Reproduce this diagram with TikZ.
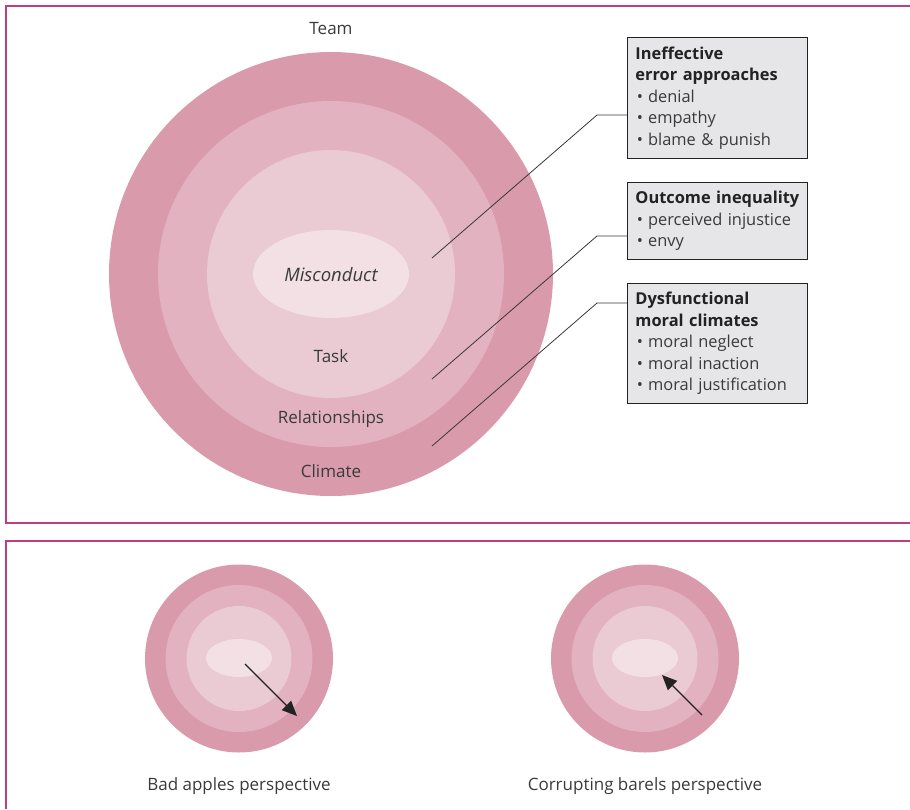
\documentclass[tikz,border=0pt]{standalone}
\usepackage{fontspec}
\setmainfont{Open Sans}
\usetikzlibrary{arrows.meta}
\definecolor{ringA}{HTML}{D99AAC}
\definecolor{ringB}{HTML}{E3B2C0}
\definecolor{ringC}{HTML}{EACAD3}
\definecolor{ringD}{HTML}{F2E0E5}
\definecolor{framec}{HTML}{BD3F80}
\definecolor{boxfill}{HTML}{E6E6E8}
\definecolor{txt}{HTML}{3A3A3A}
\definecolor{dark}{HTML}{222222}
\tikzset{
  frameline/.style={draw=framec, line width=2pt},
  lbl/.style={text=txt, font=\fontsize{17}{20}\selectfont, inner sep=0pt},
  infobox/.style={draw=dark, line width=0.9pt, fill=boxfill, anchor=north west,
    minimum width=180pt, text width=164pt, inner xsep=8pt, inner ysep=7pt, align=left,
    text=txt, font=\fontsize{16.4}{21.5}\selectfont},
  leader/.style={draw=dark!90, line width=0.8pt},
  perarrow/.style={draw=dark, line width=1.3pt, -{Triangle[length=15pt,width=13pt]}},
}
\newcommand{\hd}[1]{{\bfseries\color{dark}#1}}
\newcommand{\bul}{\hspace{1.5pt}•\hspace{5pt}}
\begin{document}
\begin{tikzpicture}[x=1pt,y=-1pt]
\useasboundingbox (0,0) rectangle (910,809);
% frames
\draw[frameline] (910,5.5) -- (5.5,5.5) -- (5.5,523) -- (910,523);
\draw[frameline] (910,540.5) -- (5.5,540.5) -- (5.5,809);
% big rings
\fill[ringA] (331,274) circle [radius=222pt];
\fill[ringB] (331,274) circle [radius=173pt];
\fill[ringC] (331,274) circle [radius=124pt];
\fill[ringD] (331,274) ellipse [x radius=78pt, y radius=44pt];
\node[lbl] (team) at (331,29) {Team};
\node[lbl] (misc) at (331,275) {\fontsize{18.5}{20}\selectfont\itshape Misconduct};
\node[lbl] (task) at (331,356) {Task};
\node[lbl] (rel) at (331,419) {Relationships};
\node[lbl] (clim) at (331,471) {Climate};
% boxes
\node[infobox, minimum height=121pt] (b1) at (627,37) {\hd{Ineffective}\\\hd{error approaches}\\ \bul denial\\ \bul empathy\\ \bul blame \& punish};
\node[infobox, minimum height=77pt] (b2) at (627,182) {\hd{Outcome inequality}\\ \bul perceived injustice\\ \bul envy};
\node[infobox, minimum height=120pt] (b3) at (627,283) {\hd{Dysfunctional}\\\hd{moral climates}\\ \bul moral neglect\\ \bul moral inaction\\ \bul moral justification};
% leaders
\coordinate (s1) at (432,258);
\coordinate (k1) at (597,115);
\coordinate (s2) at (432,379);
\coordinate (k2) at (597,236);
\coordinate (s3) at (432,446);
\coordinate (k3) at (597,303);
\draw[leader] (s1) -- (k1) -- (k1 -| b1.west);
\draw[leader] (s2) -- (k2) -- (k2 -| b2.west);
\draw[leader] (s3) -- (k3) -- (k3 -| b3.west);
% small left
\fill[ringA] (239,658.5) circle [radius=94pt];
\fill[ringB] (239,658.5) circle [radius=73.5pt];
\fill[ringC] (239,658.5) circle [radius=52.5pt];
\fill[ringD] (239,658) ellipse [x radius=33pt, y radius=19pt];
\coordinate (la) at (245,664);
\coordinate (lb) at (297,716);
\draw[perarrow] (la) -- (lb);
\node[lbl] (bad) at (239,786) {Bad apples perspective};
% small right
\fill[ringA] (645,658.5) circle [radius=94pt];
\fill[ringB] (645,658.5) circle [radius=73.5pt];
\fill[ringC] (645,658.5) circle [radius=52.5pt];
\fill[ringD] (645,658) ellipse [x radius=33pt, y radius=19pt];
\coordinate (ra) at (702,715);
\coordinate (rb) at (662,675);
\draw[perarrow] (ra) -- (rb);
\node[lbl] (corr) at (645,786) {Corrupting barels perspective};
\end{tikzpicture}
\end{document}
